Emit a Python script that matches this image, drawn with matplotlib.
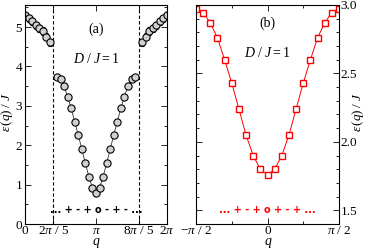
import numpy as np
import matplotlib
matplotlib.use("Agg")
import matplotlib.pyplot as plt
from matplotlib.ticker import MultipleLocator, FixedLocator

plt.rcParams['font.family'] = ['Liberation Serif', 'DejaVu Serif']
plt.rcParams['mathtext.fontset'] = 'custom'
plt.rcParams['mathtext.rm'] = 'Liberation Serif'
plt.rcParams['mathtext.it'] = 'Liberation Serif:italic'
plt.rcParams['mathtext.cal'] = 'Liberation Serif:italic'

L = 40
# panel (a): momentum indices and energies
a_left_n = [0, 1, 2, 3, 4, 5, 6, 7]
a_left_e = [5.30, 5.22, 5.15, 5.05, 4.97, 4.90, 4.75, 4.61]
a_right_n = [33, 34, 35, 36, 37, 38, 39, 40]
a_right_e = [4.61, 4.75, 4.90, 4.97, 5.05, 5.15, 5.22, 5.30]
a_err = [0.09, 0.09, 0.09, 0.09, 0.09, 0.09, 0.09, 0.09]
a_mid_n = [9, 10, 11, 12, 13, 14, 15, 16, 17, 18, 19, 20,
           21, 22, 23, 24, 25, 26, 27, 28, 29, 30, 31]
a_mid_e = [3.74, 3.68, 3.50, 3.23, 2.94, 2.60, 2.26, 1.90, 1.54, 1.20, 0.92, 0.79,
           0.92, 1.20, 1.54, 1.90, 2.26, 2.60, 2.94, 3.23, 3.50, 3.68, 3.74]
# panel (b)
b_n = [-10, -9, -8, -7, -6, -5, -4, -3, -2, -1, 0, 1, 2, 3, 4, 5, 6, 7, 8, 9, 10]
b_e = [2.97, 2.945, 2.87, 2.76, 2.60, 2.43, 2.24, 2.05, 1.90, 1.80, 1.76,
       1.80, 1.90, 2.05, 2.24, 2.43, 2.60, 2.76, 2.87, 2.945, 2.97]

a_xticks = [0, 2*np.pi/5, np.pi, 8*np.pi/5, 2*np.pi]
a_xticklabels = ['0', r'$2\pi\ /\ 5$', r'$\pi$', r'$8\pi\ /\ 5$', r'$2\pi$']
b_xticks = [-np.pi/2, 0, np.pi/2]
b_xticklabels = [r'$-\pi\ /\ 2$', '0', r'$\pi\ /\ 2$']

def q(n):
    return 2*np.pi*np.asarray(n)/L

W, H = 366, 249
fig = plt.figure(figsize=(3.66, 2.49), dpi=100)
axa = fig.add_axes([25/W, 25/H, 142/W, 219/H])
axb = fig.add_axes([196/W, 25/H, 143/W, 219/H])

fs = 9.5
fsl = 10
ylab = r'$\varepsilon\,(q)\;/\;J$'
# ---- panel (a)
circ = dict(marker='o', ms=5.2, mfc='#d0d0d0', mec='black', mew=0.8)
axa.errorbar(q(a_left_n), a_left_e, yerr=a_err, color='#333333', lw=0.6,
             ecolor='black', elinewidth=0.6, capsize=1.5, capthick=0.6, **circ)
axa.errorbar(q(a_right_n), a_right_e, yerr=a_err, color='#333333', lw=0.6,
             ecolor='black', elinewidth=0.6, capsize=1.5, capthick=0.6, **circ)
axa.plot(q(a_mid_n), a_mid_e, color='#333333', lw=0.6, **circ)
for xv in (2*np.pi/5, 8*np.pi/5):
    axa.axvline(xv, color='black', ls=(0, (3, 2)), lw=0.8)
axa.set_xlim(0, 2*np.pi)
axa.set_ylim(0, 5.56)
axa.set_xticks(a_xticks)
axa.set_xticklabels(a_xticklabels)
axa.yaxis.set_major_locator(MultipleLocator(1))
axa.yaxis.set_minor_locator(MultipleLocator(0.5))
axa.tick_params(which='both', direction='in', top=True, right=True, labelsize=fs, pad=1)
axa.tick_params(axis='y', which='both', pad=2)
axa.tick_params(which='major', length=4, width=0.6)
axa.tick_params(which='minor', length=2.5, width=0.6)
axa.text(np.pi, 4.95, '(a)', ha='center', va='center', fontsize=fsl)
axa.text(np.pi, 4.2, r'$D\ /\ J = 1$', ha='center', va='center', fontsize=fsl)
axa.text(np.pi, 0.36, '... + - + o - + - ...', ha='center', va='center',
         fontsize=7, fontweight='bold', family='DejaVu Sans', color='black')

# ---- panel (b)
axb.plot(q(b_n), b_e, color='red', lw=0.7, marker='s', ms=4.6, mfc='white',
         mec='red', mew=1.0)
axb.set_xlim(-np.pi/2, np.pi/2)
axb.set_ylim(1.4, 3.0)
axb.set_xticks(b_xticks)
axb.set_xticklabels(b_xticklabels)
axb.xaxis.set_minor_locator(FixedLocator([-np.pi/4, np.pi/4]))
axb.yaxis.set_major_locator(MultipleLocator(0.5))
axb.yaxis.set_minor_locator(MultipleLocator(0.1))
axb.yaxis.tick_right()
axb.tick_params(which='both', direction='in', top=True, left=True, right=True,
                labelsize=fs, pad=1)
axb.tick_params(which='major', length=4, width=0.6)
axb.tick_params(which='minor', length=2.5, width=0.6)
axb.text(0, 2.87, '(b)', ha='center', va='center', fontsize=fsl)
axb.text(0, 2.65, r'$D\ /\ J = 1$', ha='center', va='center', fontsize=fsl)
axb.text(0, 1.5, '... + - + o + - + ...', ha='center', va='center',
         fontsize=7, fontweight='bold', family='DejaVu Sans', color='red')

# axis labels placed in figure pixels
fig.text(96/W, 1 - 243/H, r'$q$', ha='center', va='center', fontsize=fsl)
fig.text(268/W, 1 - 243/H, r'$q$', ha='center', va='center', fontsize=fsl)
fig.text(7.5/W, 1 - 112/H, ylab, ha='center', va='center', rotation=90, fontsize=9.5)
fig.text(358/W, 1 - 112/H, ylab, ha='center', va='center', rotation=90, fontsize=9.5)

for ax in (axa, axb):
    for s in ax.spines.values():
        s.set_linewidth(0.8)

fig.savefig('out.png', dpi=100)
